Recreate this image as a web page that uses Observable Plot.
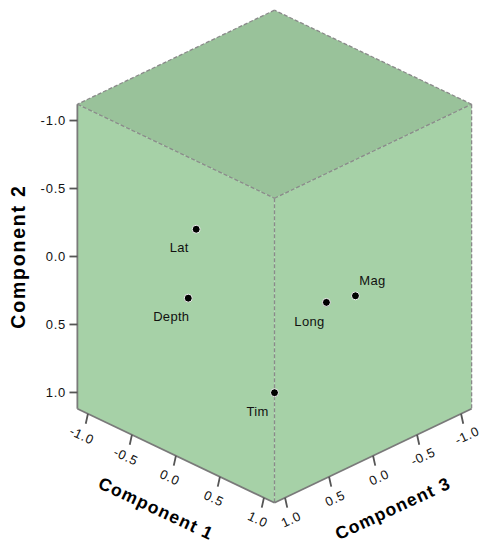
<!DOCTYPE html>
<html><head><meta charset="utf-8">
<script src="https://cdn.jsdelivr.net/npm/d3@7"></script>
<script src="https://cdn.jsdelivr.net/npm/@observablehq/plot@0.6"></script>
<style>body{margin:0;background:#fff} svg{display:block}</style>
</head><body><div id="chart"></div>
<script>
// ---- data (component loadings) ----
const variables  = ["Lat", "Depth", "Long", "Mag", "Tim"];
const component1 = [-0.30, -0.35, 0.55, 0.75, 0.10];
const component2 = [-0.29, 0.22, 0.18, 0.11, 0.94];
const component3 = [0.59, 0.63, -0.04, -0.17, 0.10];
const tickValues = [-1.0, -0.5, 0.0, 0.5, 1.0];
const tickLabels = ["-1.0", "-0.5", "0.0", "0.5", "1.0"];
const axisTitles = ["Component 1", "Component 2", "Component 3"];
const labelAboveRight = ["Mag"];

// ---- oblique projection of the 3D cube ----
const R = 1.12;            // half extent of the cube in component units
const SLOPE = 0.477, VERT = 1.545;
const P = (c1, c2, c3) => ({x: c1 - c3, y: VERT * c2 + SLOPE * (c1 + c3)});

const W = 481, H = 544;
const xDomain = [-274 / 88, (W - 274) / 88];
const yDomain = [-256 / 88, (H - 256) / 88];

// faces
const poly = (name, pts) => pts.concat([pts[0]]).map(p => ({face: name, ...p}));
const leftFace  = poly("left",  [P(-R,-R,R), P(R,-R,R), P(R,R,R), P(-R,R,R)]);
const rightFace = poly("right", [P(R,-R,R), P(R,-R,-R), P(R,R,-R), P(R,R,R)]);
const topFace   = poly("top",   [P(-R,-R,-R), P(-R,-R,R), P(R,-R,R), P(R,-R,-R)]);

const seg = (a, b) => ({x1: a.x, y1: a.y, x2: b.x, y2: b.y});
const dashedEdges = [
  seg(P(-R,-R,-R), P(-R,-R,R)), seg(P(-R,-R,R), P(R,-R,R)),
  seg(P(R,-R,R), P(R,-R,-R)),   seg(P(R,-R,-R), P(-R,-R,-R)),
  seg(P(R,-R,R), P(R,R,R)),     seg(P(R,-R,-R), P(R,R,-R))
];
const solidEdges = [
  seg(P(-R,-R,R), P(-R,R,R)),   // component 2 axis
  seg(P(-R,R,R), P(R,R,R)),     // component 1 axis
  seg(P(R,R,R), P(R,R,-R))      // component 3 axis
];

// ticks
const t2 = tickValues.map((v, i) => ({a: P(-R, v, R), b: P(-R-0.045, v, R+0.045), l: P(-R-0.064, v, R+0.064), label: tickLabels[i]}));
const t1 = tickValues.map((v, i) => ({a: P(v, R, R), b: P(v, R+0.065, R+0.025), l: P(v, R+0.14, R+0.07), label: tickLabels[i]}));
const t3 = tickValues.map((v, i) => ({a: P(R, R, v), b: P(R+0.025, R+0.065, v), l: P(R+0.07, R+0.14, v), label: tickLabels[i]}));
const tickSegs = [...t1, ...t2, ...t3].map(t => seg(t.a, t.b));
const lab = arr => arr.map(t => ({x: t.l.x, y: t.l.y, label: t.label}));

const titles = [
  {...P(0, R+0.32, R+0.227), text: axisTitles[0], rotate: 25},
  {...P(R+0.227, R+0.32, 0), text: axisTitles[2], rotate: -25}
];
const title2 = [{...P(-R-0.335, 0, R+0.335), text: axisTitles[1]}];

const points = variables.map((name, i) => ({name, ...P(component1[i], component2[i], component3[i])}));
const ptBL = points.filter(d => !labelAboveRight.includes(d.name));
const ptAR = points.filter(d => labelAboveRight.includes(d.name));

const font = "Liberation Sans, Arial, sans-serif";

const chart = Plot.plot({
  width: W, height: H, margin: 0,
  x: {domain: xDomain, range: [0, W], axis: null},
  y: {domain: yDomain, range: [0, H], axis: null},
  style: {fontFamily: font, background: "#fff"},
  marks: [
    Plot.line(leftFace,  {x: "x", y: "y", fill: "#a6d1a7", stroke: "none"}),
    Plot.line(rightFace, {x: "x", y: "y", fill: "#a6d1a7", stroke: "none"}),
    Plot.line(topFace,   {x: "x", y: "y", fill: "#99c29a", stroke: "none"}),
    Plot.link(dashedEdges, {x1: "x1", y1: "y1", x2: "x2", y2: "y2", stroke: "#8a8a8a", strokeWidth: 1.3, strokeDasharray: "4,2"}),
    Plot.link(solidEdges,  {x1: "x1", y1: "y1", x2: "x2", y2: "y2", stroke: "#7a7a7a", strokeWidth: 1.8}),
    Plot.link(tickSegs,    {x1: "x1", y1: "y1", x2: "x2", y2: "y2", stroke: "#555", strokeWidth: 1.8}),
    Plot.text(lab(t2), {x: "x", y: "y", text: "label", textAnchor: "end", fontSize: 13, fill: "#111"}),
    Plot.text(lab(t1), {x: "x", y: "y", text: "label", rotate: 25, fontSize: 13, fill: "#111"}),
    Plot.text(lab(t3), {x: "x", y: "y", text: "label", rotate: -25, fontSize: 13, fill: "#111"}),
    Plot.text(titles, {x: "x", y: "y", text: "text", rotate: "rotate", fontSize: 17.5, fontWeight: "bold", fill: "#000"}),
    Plot.text(title2, {x: "x", y: "y", text: "text", rotate: -90, fontSize: 19.5, fontWeight: "bold", fill: "#000"}),
    Plot.dot(points, {x: "x", y: "y", r: 4, fill: "#000", stroke: "#f4f4f4", strokeWidth: 1}),
    Plot.text(ptBL, {x: "x", y: "y", text: "name", dx: -17, dy: 19, fontSize: 13, fill: "#111"}),
    Plot.text(ptAR, {x: "x", y: "y", text: "name", dx: 17, dy: -15, fontSize: 13, fill: "#111"})
  ]
});
const textGroups = d3.select(chart).selectAll('g[aria-label="text"]').nodes();
const spacing = [0.8, 0.8, 0.8, 1.2, 1.8, 0.3, 0.3];
textGroups.forEach((g, i) => d3.select(g).style("letter-spacing", spacing[i] + "px"));
document.getElementById("chart").appendChild(chart);
</script>
</body></html>
